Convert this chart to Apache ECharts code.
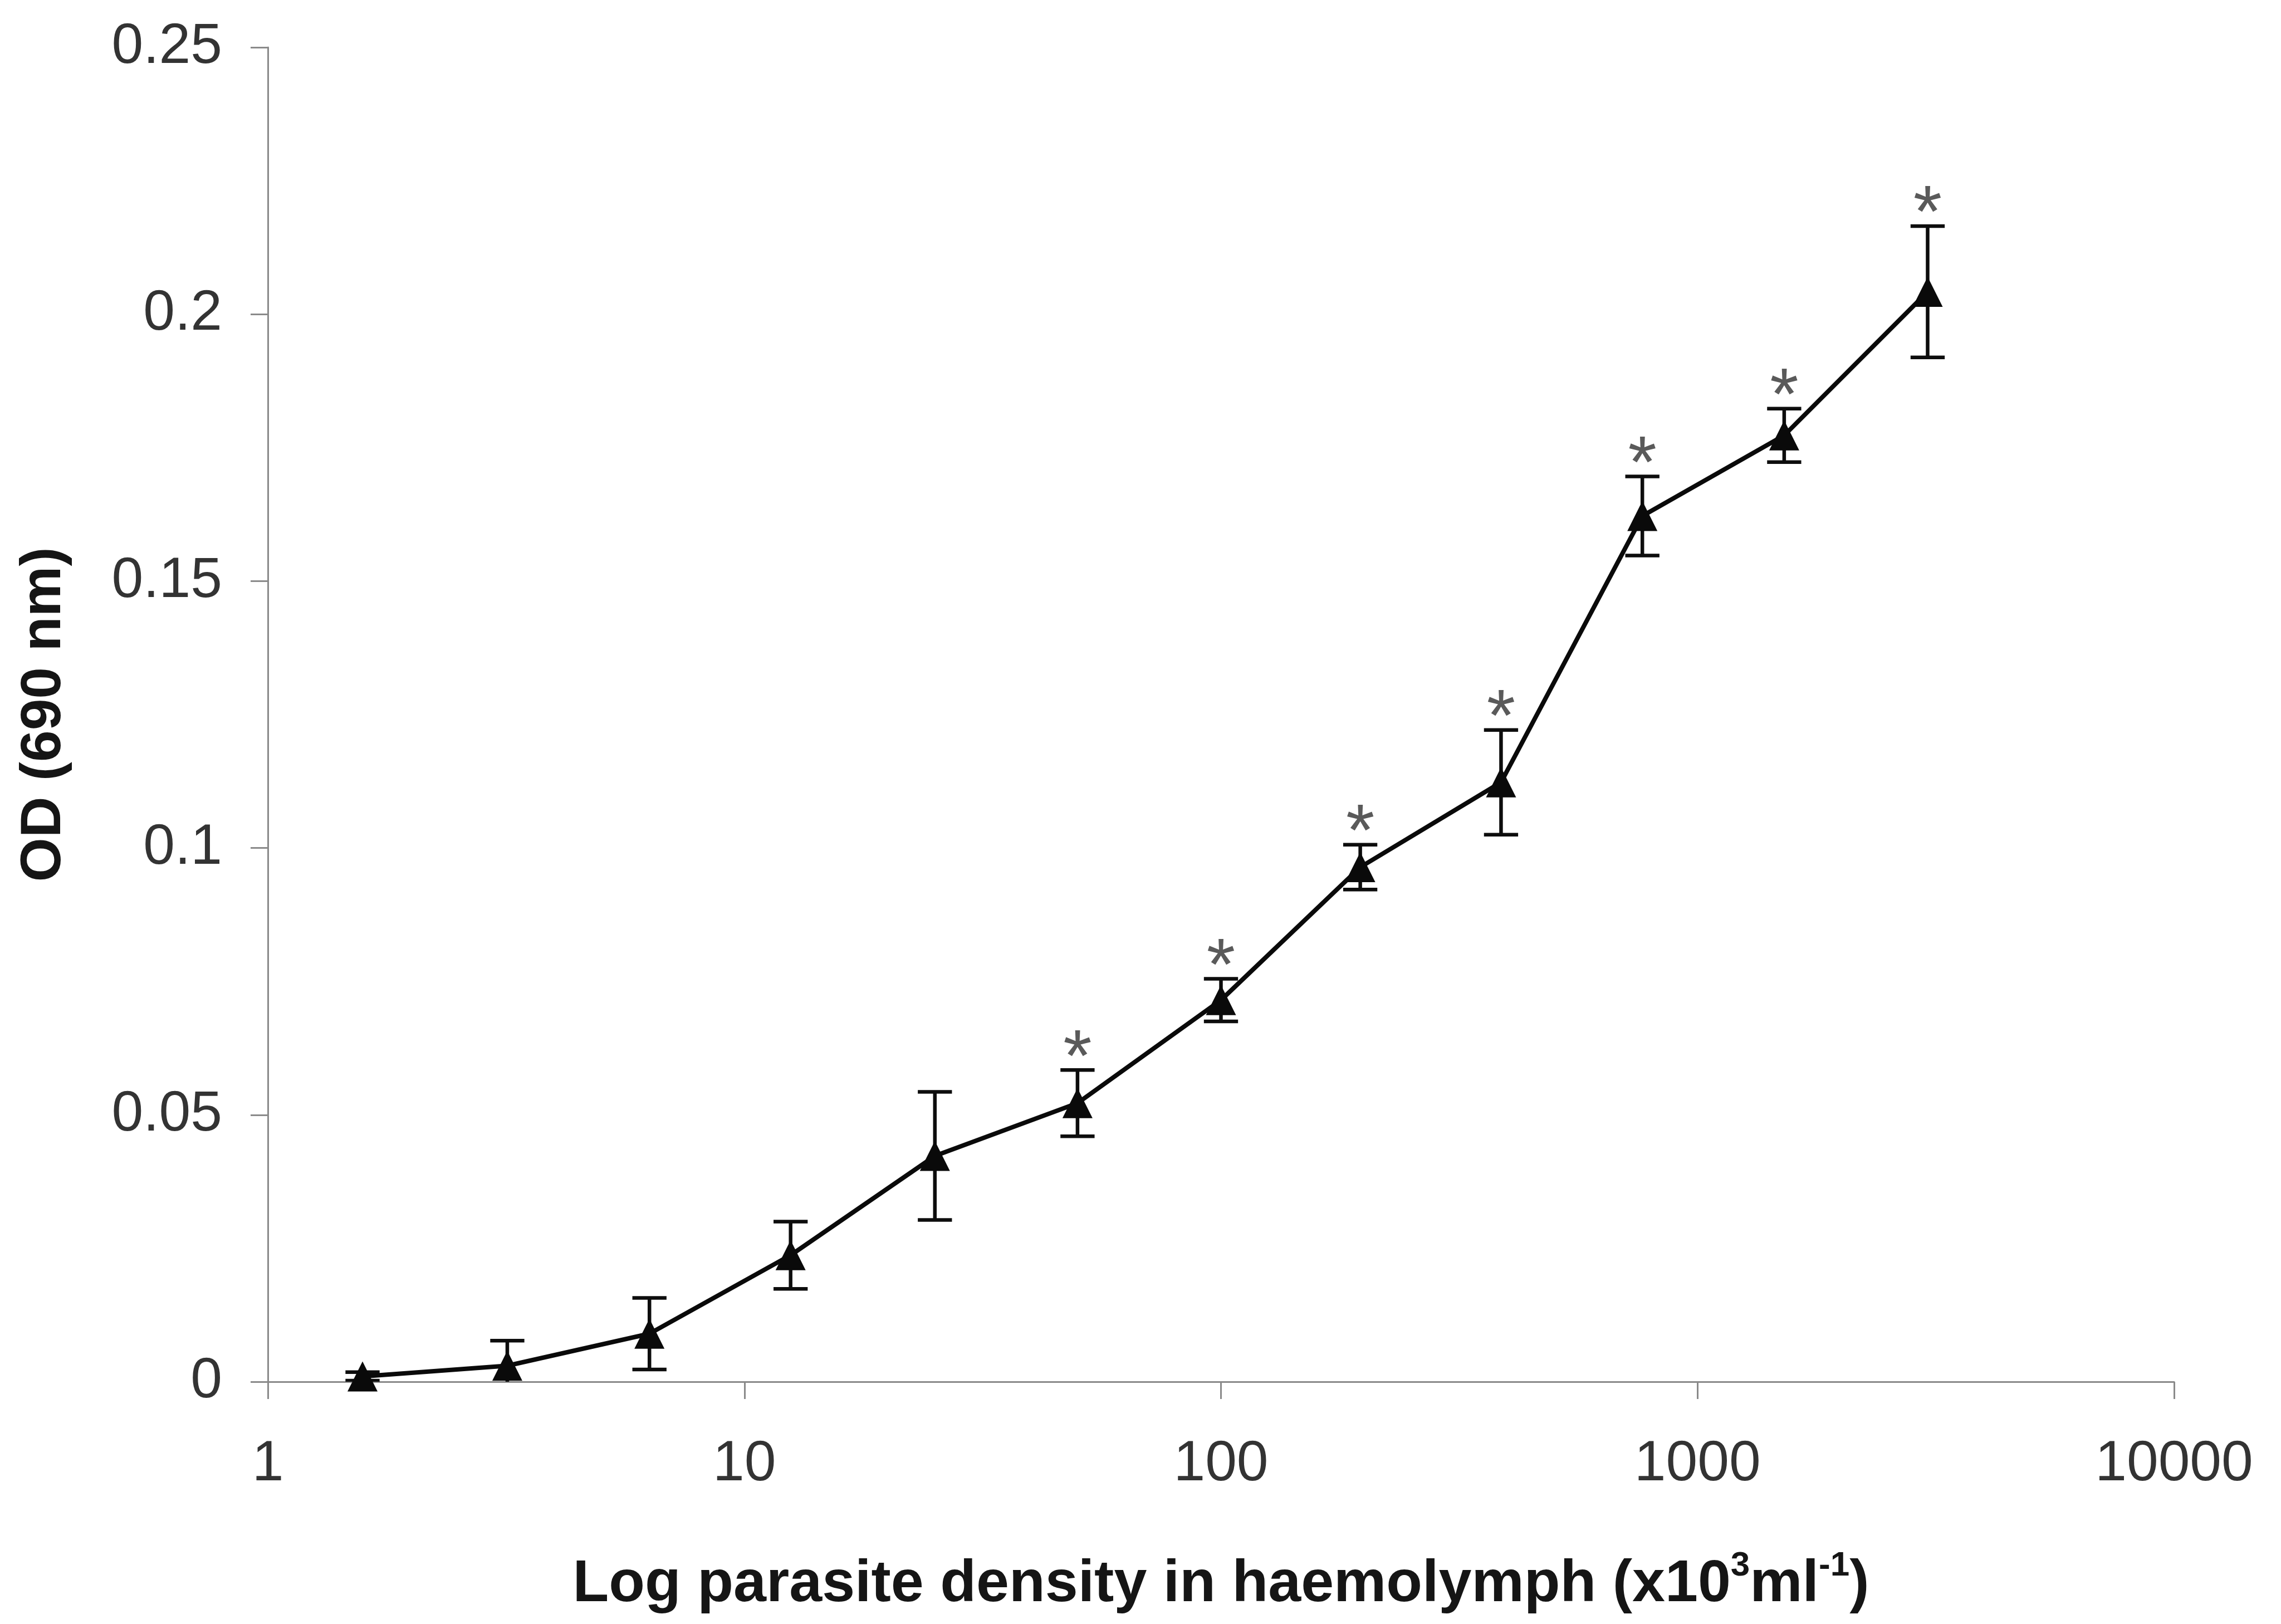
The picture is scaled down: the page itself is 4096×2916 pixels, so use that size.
<!DOCTYPE html>
<html>
<head>
<meta charset="utf-8">
<script src="https://cdn.jsdelivr.net/npm/echarts@6/dist/echarts.min.js"></script>
<style>
html, body { margin: 0; padding: 0; background: #fff; }
#chart { width: 4096px; height: 2916px; }
</style>
</head>
<body>
<div id="chart"></div>
<script>
// values
const density = [1.58, 3.18, 6.32, 12.5, 25.1, 50, 100, 196, 387, 766, 1520, 3040];
const od = [0.001, 0.003, 0.009, 0.0237, 0.0423, 0.0522, 0.0715, 0.0964, 0.1123, 0.1622, 0.1773, 0.2042];
const odErr = [0.0008, 0.0047, 0.0067, 0.0063, 0.012, 0.0062, 0.004, 0.0042, 0.0098, 0.0074, 0.005, 0.0123];
const significant = [false, false, false, false, false, true, true, true, true, true, true, true];

const S = 0.989;
const FONT = "'Liberation Sans', Arial, sans-serif";

let dom = document.getElementById("chart");
let myChart = echarts.init(dom, null, { renderer: "canvas" });

let lineData = density.map((d, i) => [d, od[i]]);
let barData = density.map((d, i) => [d, od[i] - odErr[i], od[i] + odErr[i], significant[i] ? 1 : 0]);

let option = {
    animation: false,
    backgroundColor: "#fff",
    grid: {
        left: 481,
        right: 192,
        top: 85,
        bottom: 435,
    },
    xAxis: {
        type: "log",
        logBase: 10,
        min: 1,
        max: 10000,
        name: "Log parasite density in haemolymph (x10{sup|3}ml{sup|-1})",
        nameLocation: "middle",
        nameGap: 300,
        nameTextStyle: {
            fontFamily: FONT,
            fontWeight: "bold",
            fontSize: 106,
            color: "#151515",
            lineHeight: 130,
            rich: {
                sup: {
                    fontFamily: FONT,
                    fontWeight: "bold",
                    fontSize: 62,
                    color: "#151515",
                    verticalAlign: "top",
                    lineHeight: 62,
                },
            },
        },
        axisLine: { show: true, lineStyle: { color: "#8a8a8a", width: 3 } },
        axisTick: { show: true, inside: false, length: 31, lineStyle: { color: "#8a8a8a", width: 3 } },
        minorTick: { show: false },
        splitLine: { show: false },
        axisLabel: {
            margin: 98,
            fontFamily: FONT,
            fontSize: 102,
            color: "#333",
            formatter: (v) => String(Math.round(v)),
        },
    },
    yAxis: {
        type: "value",
        min: 0,
        max: 0.25,
        interval: 0.05,
        name: "OD (690 nm)",
        nameLocation: "middle",
        nameGap: 350,
        nameRotate: 90,
        nameTextStyle: {
            fontFamily: FONT,
            fontWeight: "bold",
            fontSize: 102,
            color: "#151515",
        },
        axisLine: { show: true, lineStyle: { color: "#8a8a8a", width: 3 } },
        axisTick: { show: true, inside: false, length: 31, lineStyle: { color: "#8a8a8a", width: 3 } },
        splitLine: { show: false },
        axisLabel: {
            margin: 82,
            fontFamily: FONT,
            fontSize: 102,
            color: "#333",
            formatter: (v) => String(+v.toFixed(2)),
        },
    },
    series: [
        {
            type: "custom",
            name: "error",
            clip: true,
            z: 2,
            data: barData,
            renderItem: function (params, api) {
                let x = api.value(0);
                let hi = api.coord([x, api.value(2)]);
                let lo = api.coord([x, api.value(1)]);
                let cap = 31 * S;
                let style = { stroke: "#0d0d0d", lineWidth: 6.5 };
                let children = [
                    { type: "line", shape: { x1: hi[0], y1: hi[1], x2: lo[0], y2: lo[1] }, style: style },
                    { type: "line", shape: { x1: hi[0] - cap, y1: hi[1], x2: hi[0] + cap, y2: hi[1] }, style: style },
                    { type: "line", shape: { x1: lo[0] - cap, y1: lo[1], x2: lo[0] + cap, y2: lo[1] }, style: style },
                ];
                if (api.value(3)) {
                    children.push({
                        type: "text",
                        x: hi[0],
                        y: hi[1] - 17,
                        style: {
                            text: "*",
                            fontFamily: FONT,
                            fontSize: 132,
                            fill: "#5a5a5a",
                            align: "center",
                            verticalAlign: "middle",
                        },
                    });
                }
                return { type: "group", children: children };
            },
        },
        {
            type: "line",
            name: "OD",
            z: 3,
            data: lineData,
            symbol: "triangle",
            symbolSize: [54, 54],
            itemStyle: { color: "#0a0a0a" },
            lineStyle: { color: "#0a0a0a", width: 8 },
        },
    ],
};

if (option && typeof option === "object") {
    myChart.setOption(option);
}

window.addEventListener("resize", myChart.resize);
</script>
</body>
</html>
